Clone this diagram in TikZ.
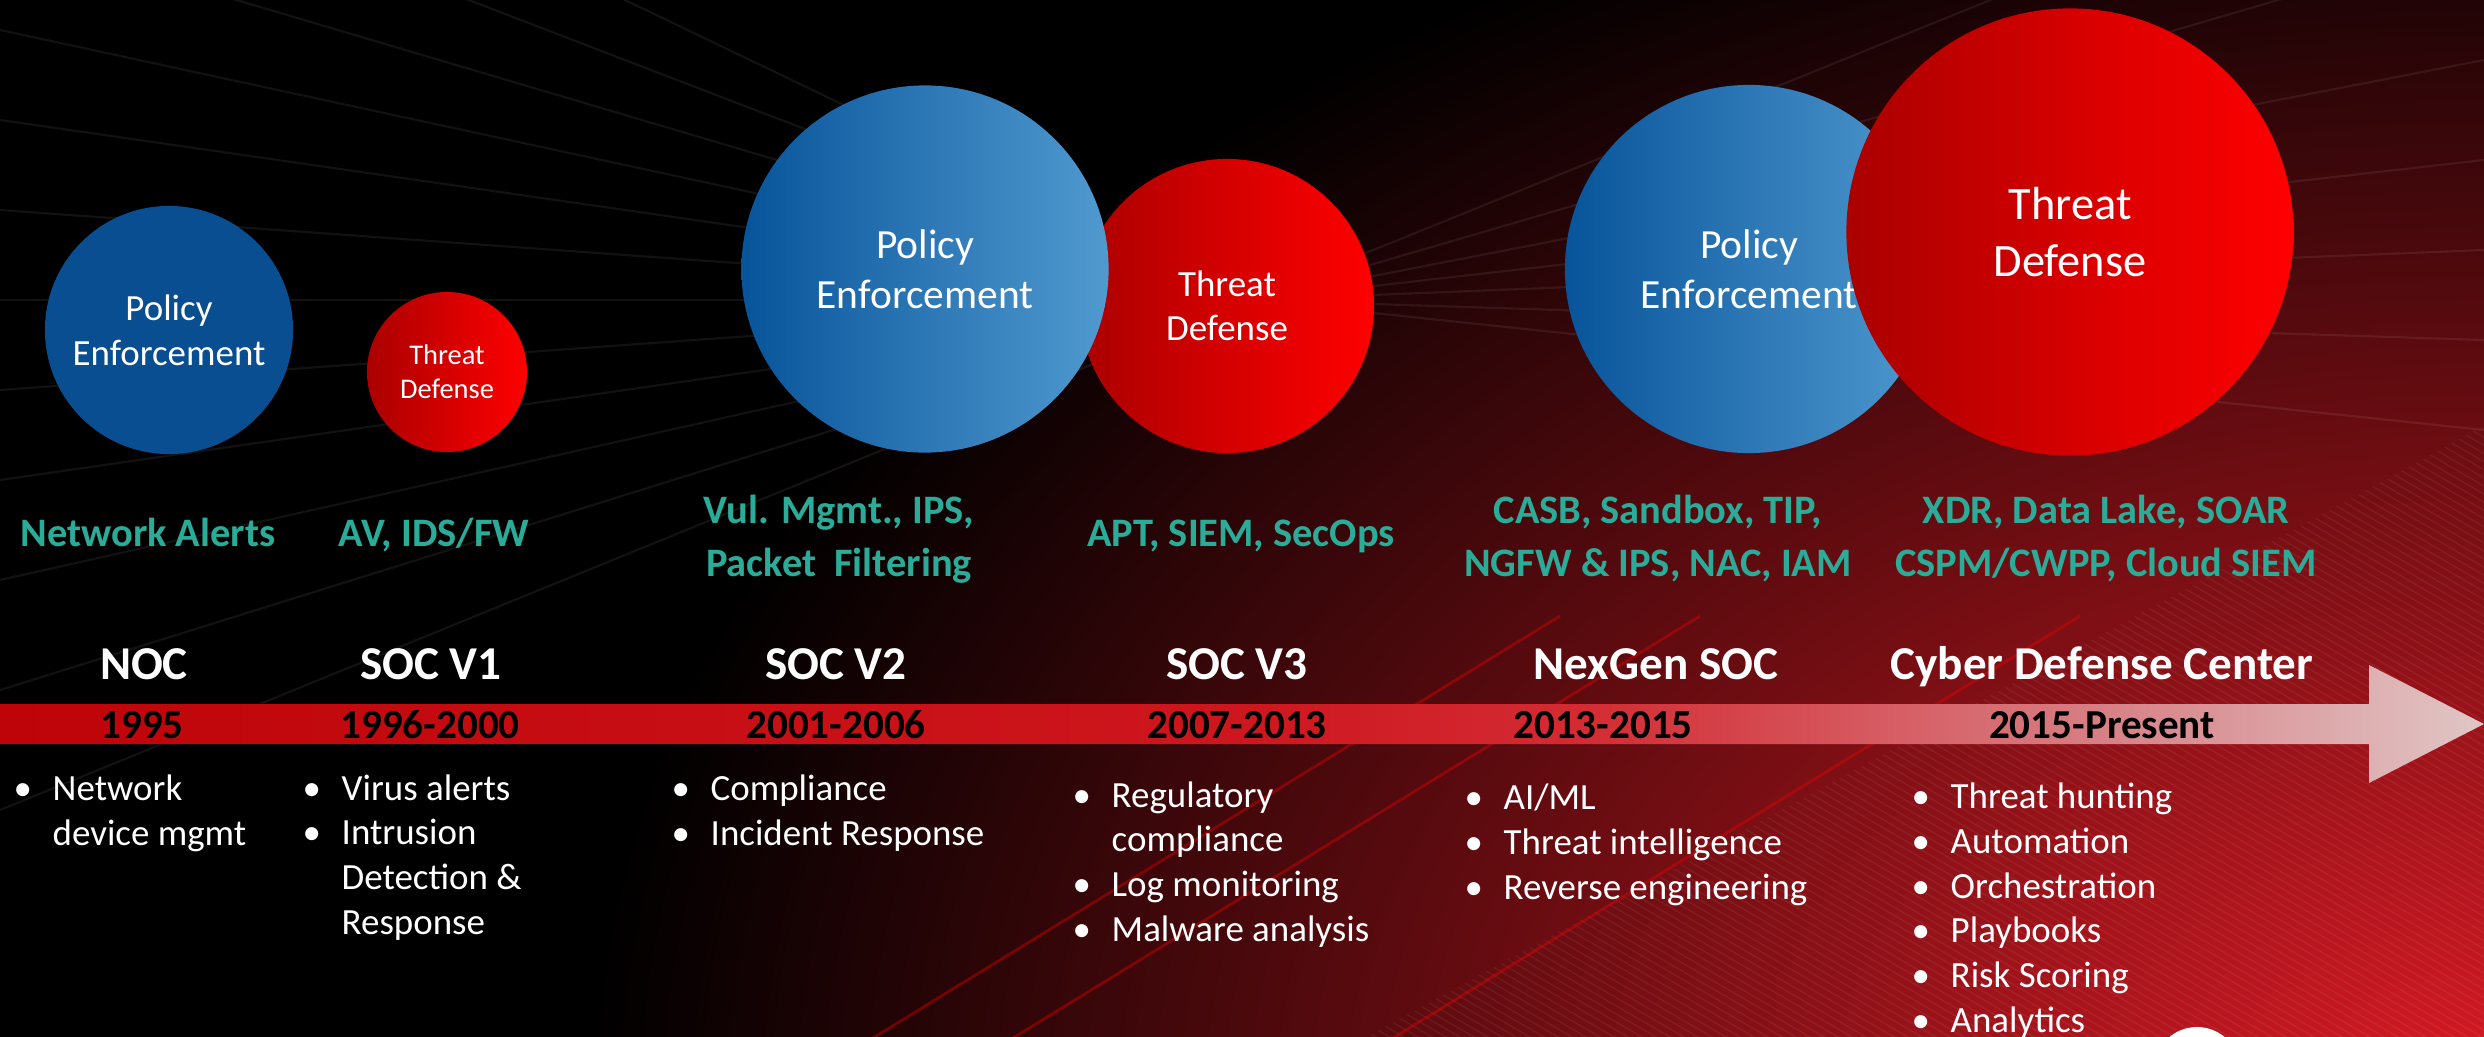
\documentclass[tikz,border=0pt]{standalone}
\usepackage{fontspec}
\setmainfont{Carlito}

\definecolor{tealtxt}{RGB}{42,172,152}
\definecolor{nocblue}{RGB}{8,78,145}
\definecolor{bluedk}{RGB}{8,84,154}
\definecolor{bluelt}{RGB}{80,154,208}
\definecolor{reddk}{RGB}{170,0,0}
\definecolor{redlt}{RGB}{255,0,0}
\definecolor{bgred}{RGB}{218,26,36}
\definecolor{bandA}{RGB}{190,4,8}
\definecolor{bandB}{RGB}{206,22,30}
\definecolor{bandC}{RGB}{212,44,52}
\definecolor{bandD}{RGB}{215,125,130}
\definecolor{bandE}{RGB}{224,198,198}

\pgfdeclarehorizontalshading{bandfill}{100bp}{color(0bp)=(bandA); color(25bp)=(bandA); color(50bp)=(bandB); color(57bp)=(bandC); color(67bp)=(bandD); color(75bp)=(bandE); color(100bp)=(bandE)}

\tikzset{
  stage/.style={text=white, font=\fontsize{13.4}{16}\selectfont\bfseries, anchor=base, inner sep=0pt},
  years/.style={text=black, font=\fontsize{11.7}{14}\selectfont\bfseries, anchor=base, inner sep=0pt},
  tools/.style={text=tealtxt, font=\fontsize{11.5}{14.8}\selectfont\bfseries, align=center, anchor=base, inner sep=0pt},
  pts/.style={text=white, font=\fontsize{10.5}{12.7}\selectfont, align=left, anchor=base west, inner sep=0pt},
  ball/.style={circle, inner sep=0pt, text=white, align=center},
  streak/.style={white, opacity=0.07, line width=0.6pt},
  stripe/.style={white, opacity=0.06, line width=0.4pt},
}
\newcommand{\bl}{\makebox[0.39cm][l]{\textbullet}}
\newcommand{\ind}{\hspace*{0.39cm}}

\begin{document}
\begin{tikzpicture}[x=0.01cm, y=-0.01cm]
    \useasboundingbox (0,0) rectangle (2484,1036);
    \begin{scope}
        \clip (-10,-10) rectangle (2494,1046);
        \fill[black] (-10,-10) rectangle (2494,1046);
        \shade[inner color=bgred, outer color=black] (2484,1100) ellipse (1900 and 1300);
        \coordinate (vp) at (1250,300);
        \foreach \yy in {-300,-180,-70,30,120,210,300,390,480,580,690,810}
            \draw[streak] (vp) -- (0,\yy);
        \foreach \yy in {-200,-60,60,160,250,340,430}
            \draw[streak] (vp) -- (2484,\yy);
        \begin{scope}
            \clip (1350,1046) -- (2494,1046) -- (2494,420) -- cycle;
            \foreach \k in {-440,-426,...,2240}
                \draw[stripe] (\k,0) -- ++(1800,1044);
        \end{scope}
        \foreach \k in {860,1000,1380}
            \draw[red, opacity=0.35, line width=0.8pt] (\k,1046) -- ++(700,-430);
        \fill[white] (2197,1070) circle (43);
    \end{scope}

    \shade[shading=bandfill] (0,704) -- (2369,704) -- (2369,665) -- (2484,724)
        -- (2369,783) -- (2369,744) -- (0,744) -- cycle;

    \node[ball, minimum size=2.48cm, fill=nocblue, font=\fontsize{10.5}{12.8}\selectfont] (pe1) at (169,330) {Policy\\Enforcement};
    \node[ball, minimum size=1.6cm, left color=reddk, right color=redlt, font=\fontsize{8.1}{9.7}\selectfont] (td1) at (447,372) {Threat\\Defense};
    \node[ball, minimum size=2.94cm, left color=reddk, right color=redlt, font=\fontsize{10.5}{12.5}\selectfont] (td2) at (1227,306) {Threat\\Defense};
    \node[ball, minimum size=3.67cm, left color=bluedk, right color=bluelt, font=\fontsize{11.8}{14.2}\selectfont] (pe2) at (925,269) {Policy\\Enforcement};
    \node[ball, minimum size=3.68cm, left color=bluedk, right color=bluelt, font=\fontsize{11.8}{14.2}\selectfont] (pe3) at (1749,269) {Policy\\Enforcement};
    \node[ball, minimum size=4.47cm, left color=reddk, right color=redlt, font=\fontsize{13.2}{16.2}\selectfont] (td3) at (2070,232) {Threat\\Defense};

    \node[tools] (t1) at (148,546) {Network Alerts};
    \node[tools] (t2) at (434,546) {AV, IDS/FW};
    \node[tools] (t3) at (839,576) {Vul. Mgmt., IPS,\\Packet\ \ Filtering};
    \node[tools] (t4) at (1241,546) {APT, SIEM, SecOps};
    \node[tools] (t5) at (1658,576) {CASB, Sandbox, TIP,\\NGFW \& IPS, NAC, IAM};
    \node[tools] (t6) at (2106,576) {XDR, Data Lake, SOAR\\CSPM/CWPP, Cloud SIEM};

    \node[stage] (noc) at (144,679) {NOC};
    \node[stage] (soc1) at (431,679) {SOC V1};
    \node[stage] (soc2) at (836,679) {SOC V2};
    \node[stage] (soc3) at (1237,679) {SOC V3};
    \node[stage] (nxg) at (1656,679) {NexGen SOC};
    \node[stage] (cdc) at (2102,679) {Cyber Defense Center};

    \node[years] (y1) at (142,738) {1995};
    \node[years] (y2) at (430,738) {1996-2000};
    \node[years] (y3) at (836,738) {2001-2006};
    \node[years] (y4) at (1237,738) {2007-2013};
    \node[years] (y5) at (1603,738) {2013-2015};
    \node[years] (y6) at (2102,738) {2015-Present};

    \node[pts] (l1) at (13,845) {\bl Network\\\ind device mgmt};
    \node[pts] (l2) at (302,934) {\bl Virus alerts\\\bl Intrusion\\\ind Detection \&\\\ind Response};
    \node[pts] (l3) at (671,845) {\bl Compliance\\\bl Incident Response};
    \node[pts] (l4) at (1072,941) {\bl Regulatory\\\ind compliance\\\bl Log monitoring\\\bl Malware analysis};
    \node[pts] (l5) at (1464,899) {\bl AI/ML\\\bl Threat intelligence\\\bl Reverse engineering};
    \node[pts] (l6) at (1911,1032) {\bl Threat hunting\\\bl Automation\\\bl Orchestration\\\bl Playbooks\\\bl Risk Scoring\\\bl Analytics};
\end{tikzpicture}
\end{document}
